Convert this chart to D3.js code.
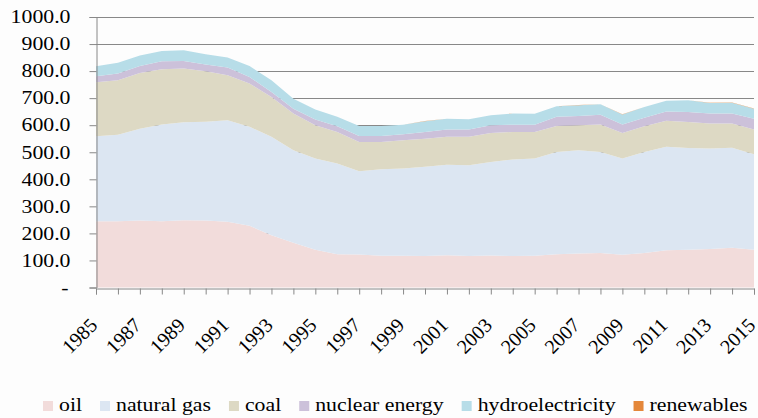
<!DOCTYPE html>
<html lang="en">
<head>
  <meta charset="utf-8">
  <title>Energy consumption 1985-2015</title>
  <script src="https://cdn.jsdelivr.net/npm/d3@7/dist/d3.min.js"></script>
  <style>
    body { margin: 0; background: #fdfdfd; }
    svg { display: block; }
  </style>
</head>
<body>
  <script>
    // data (stacked, bottom to top)
    const years = d3.range(1985, 2016);
    const seriesNames = ["oil", "natural gas", "coal", "nuclear energy", "hydroelectricity", "renewables"];
    const colors = ["#f2dcdb", "#dce6f2", "#ddd9c4", "#ccc1da", "#b7dde8", "#e4873a"];

    const oil = [245, 245, 248, 245, 249, 248, 243, 228, 193, 165, 140, 123, 122, 117, 117, 116,
      119, 116, 118, 116, 117, 123, 126, 128, 121, 128, 138, 140, 142, 147, 140];
    const naturalGas = [314, 320, 339, 358, 362, 365, 375, 366, 364, 342, 337, 335, 308, 320, 323, 330,
      335, 336, 346, 357, 360, 378, 381, 373, 356, 373, 382, 376, 372, 370, 353];
    const coal = [200, 201, 206, 204, 199, 186, 167, 160, 147, 136, 123, 117, 108, 101, 104, 104,
      103, 105, 107, 102, 98, 96, 93, 102, 94, 95, 96, 96, 92, 89, 91];
    const nuclear = [22, 25, 26, 29, 27, 25, 28, 24, 19, 18, 21, 21, 22, 22, 23, 25,
      27, 27, 29, 27, 27, 34, 34, 36, 32, 32, 35, 37, 37, 37, 40];
    const hydro = [37, 40, 39, 38, 40, 38, 37, 41, 43, 37, 37, 35, 37, 37, 35, 40,
      40, 38, 37, 41, 40, 39, 40, 38, 37, 39, 39, 43, 39, 40, 37];
    const renewables = [0, 0, 0, 0, 0, 0, 0, 0, 0, 0, 0, 0, 0, 0, 0, 0.1,
      0.1, 0.1, 0.1, 0.2, 0.2, 0.2, 0.3, 0.3, 0.4, 0.4, 0.5, 0.5, 0.6, 0.7, 0.8];
    const yTicks = d3.range(0, 1001, 100);

    const allSeries = [oil, naturalGas, coal, nuclear, hydro, renewables];
    const table = years.map((yr, i) => {
      const row = { year: yr };
      seriesNames.forEach((n, k) => row[n] = allSeries[k][i]);
      return row;
    });

    const width = 758, height = 418;
    const margin = { left: 96, right: 4, top: 17, bottom: 130.5 };
    const font = "'Liberation Serif', 'Times New Roman', serif";
    const stretch = 1.21;   // reference text is drawn a bit wide

    const svg = d3.select("body").append("svg")
      .attr("width", width)
      .attr("height", height);

    const x = d3.scaleLinear()
      .domain([1985, 2015])
      .range([margin.left, width - margin.right]);
    const y = d3.scaleLinear()
      .domain([0, 1000])
      .range([height - margin.bottom, margin.top]);

    // grid
    svg.append("g")
      .selectAll("line")
      .data(yTicks.filter(d => d > 0))
      .join("line")
      .attr("x1", margin.left).attr("x2", width - margin.right)
      .attr("y1", d => Math.round(y(d)) + 0.5).attr("y2", d => Math.round(y(d)) + 0.5)
      .attr("stroke", "#888")
      .attr("stroke-width", 1);

    // stacked areas
    const stack = d3.stack().keys(seriesNames);
    const layers = stack(table);
    const area = d3.area()
      .x(d => x(d.data.year))
      .y0(d => y(d[0]))
      .y1(d => y(d[1]));

    svg.append("g")
      .selectAll("path")
      .data(layers)
      .join("path")
      .attr("fill", (d, i) => colors[i])
      .attr("d", area);

    // y axis
    const yAxis = svg.append("g")
      .attr("transform", `translate(${margin.left + 0.5},0)`)
      .call(d3.axisLeft(y)
        .tickValues(yTicks)
        .tickSize(7)
        .tickPadding(19)
        .tickFormat(d => d === 0 ? "-" : d3.format(".1f")(d)));
    yAxis.select(".domain").attr("stroke", "#888");
    yAxis.selectAll(".tick line").attr("stroke", "#888");
    yAxis.selectAll(".tick text")
      .attr("fill", "#000")
      .style("font-family", font)
      .style("font-size", "18px")
      .attr("dx", d => d === 0 ? -2 : 0)
      .each(function () {
        const w = this.getComputedTextLength();
        d3.select(this).attr("textLength", w * stretch).attr("lengthAdjust", "spacingAndGlyphs");
      });

    // x axis
    const xAxis = svg.append("g")
      .attr("transform", `translate(0,${Math.round(y(0)) + 0.5})`)
      .call(d3.axisBottom(x)
        .tickValues(years)
        .tickSize(6)
        .tickFormat(d => (d - 1985) % 2 === 0 ? String(d) : ""));
    xAxis.select(".domain").attr("stroke", "#888");
    xAxis.selectAll(".tick line").attr("stroke", "#888");
    xAxis.selectAll(".tick text")
      .attr("fill", "#000")
      .style("font-family", font)
      .style("font-size", "20px")
      .attr("text-anchor", "end")
      .attr("y", 0)
      .attr("dy", 0)
      .attr("transform", "translate(2,38) rotate(-45)");

    // legend
    const legend = svg.append("g")
      .style("font-family", font)
      .style("font-size", "18px");
    let lx = 43;
    seriesNames.forEach((name, i) => {
      legend.append("rect")
        .attr("x", lx).attr("y", 401)
        .attr("width", 10).attr("height", 10)
        .attr("fill", colors[i]);
      const t = legend.append("text")
        .attr("x", lx + 16).attr("y", 411)
        .attr("fill", "#000")
        .text(name);
      const w = t.node().getComputedTextLength() * stretch;
      t.attr("textLength", w).attr("lengthAdjust", "spacingAndGlyphs");
      lx += 16 + w + 18;
    });
  </script>
</body>
</html>
